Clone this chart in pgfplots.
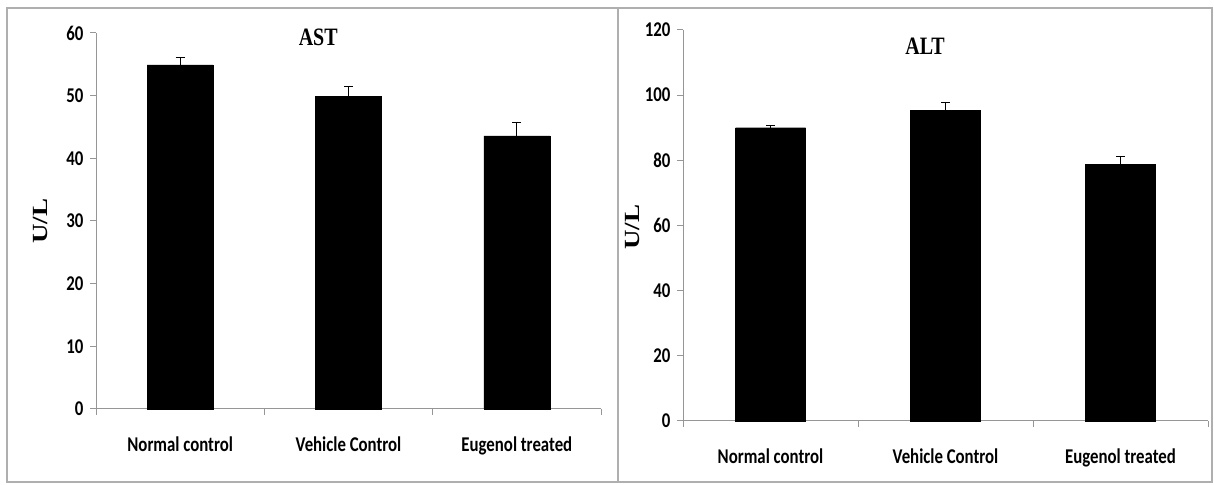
\documentclass[border=0pt]{standalone}
\usepackage{fontspec}
\usepackage{graphicx}
\usepackage{pgfplots}
\pgfplotsset{compat=1.18}
\newfontfamily\tickfont[FakeStretch=0.8]{Carlito}
\newfontfamily\titlefont[FakeStretch=0.8]{Liberation Serif}
\newfontfamily\ylfont{Liberation Serif}
\definecolor{axgray}{RGB}{150,150,150}
\definecolor{framegray}{RGB}{175,175,175}
\pgfplotsset{
  panel/.style={
    scale only axis,
    axis lines*=left,
    axis line style={color=axgray, line width=1pt},
    ymin=0, xmin=-0.5, xmax=2.5,
    xtick={0,1,2},
    xticklabels={Normal control, Vehicle Control, Eugenol treated},
    every major x tick/.append style={draw=none},
    minor xtick={-0.5,0.5,1.5,2.5},
    tick align=outside,
    major tick length=6pt,
    minor tick length=6pt,
    tick style={color=axgray, line width=1pt},
    ticklabel style={font=\fontsize{21}{24}\selectfont\tickfont\bfseries},
    /pgf/number format/assume math mode=true,
    xticklabel style={yshift=-18pt},
    yticklabel style={xshift=-3pt},
    ylabel={\scalebox{0.8}[1]{\rotatebox{90}{\fontsize{27}{29}\selectfont\ylfont\bfseries U/L}}},
    clip=false,
  }
}
\begin{document}
\begin{tikzpicture}
\useasboundingbox (0pt,0pt) rectangle (1214pt,484pt);
\draw[framegray, line width=1.5pt] (7pt,2pt) rectangle (618pt,476pt);
\draw[framegray, line width=1.5pt] (618pt,2pt) rectangle (1212pt,476pt);
% Left panel: AST
\begin{axis}[panel, at={(96pt,75pt)}, anchor=south west,
  width=505pt, height=376pt, ymax=60, ytick={0,10,...,60},
  ylabel style={rotate=-90, at={(axis description cs:-0.109,0.5)}, anchor=center}]
\addplot[ybar, bar width=66pt, fill=black, draw=black,
  error bars/.cd, y dir=plus, y explicit,
  error bar style={black, line width=1.2pt},
  error mark options={black, rotate=90, mark size=4.5pt, line width=1.2pt}]
  coordinates {(0,54.9) +- (0,1.2) (1,49.9) +- (0,1.6) (2,43.6) +- (0,2.1)};
\node[font=\fontsize{25}{28}\selectfont\titlefont\bfseries] at (rel axis cs:0.44,0.989) {AST};
\end{axis}
% Right panel: ALT
\begin{axis}[panel, at={(683pt,63pt)}, anchor=south west,
  width=525pt, height=391pt, ymax=120, ytick={0,20,...,120},
  ylabel style={rotate=-90, at={(axis description cs:-0.097,0.496)}, anchor=center}]
\addplot[ybar, bar width=70pt, fill=black, draw=black,
  error bars/.cd, y dir=plus, y explicit,
  error bar style={black, line width=1.2pt},
  error mark options={black, rotate=90, mark size=4.5pt, line width=1.2pt}]
  coordinates {(0,90.0) +- (0,0.8) (1,95.3) +- (0,2.4) (2,78.8) +- (0,2.3)};
\node[font=\fontsize{25}{28}\selectfont\titlefont\bfseries] at (rel axis cs:0.461,0.959) {ALT};
\end{axis}
\end{tikzpicture}
\end{document}
